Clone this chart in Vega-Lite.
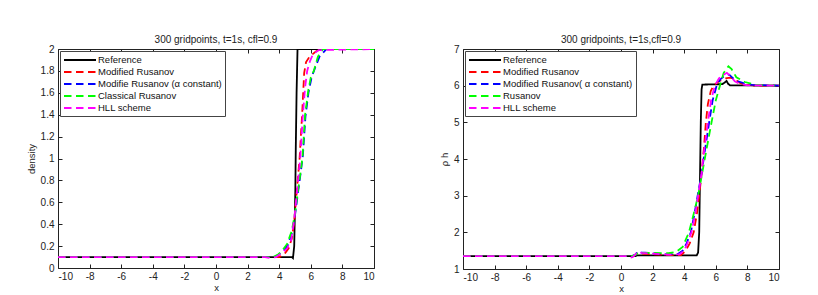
{
  "$schema": "https://vega.github.io/schema/vega-lite/v6.json",
  "background": "white",
  "padding": {"left": 25, "top": 34, "right": 0, "bottom": 0},
  "spacing": 63,
  "config": {
    "font": "Liberation Sans",
    "view": {"stroke": "#222", "strokeWidth": 1},
    "axis": {
      "grid": false,
      "domain": false,
      "tickSize": -4,
      "tickColor": "#222",
      "labelFontSize": 10,
      "labelColor": "#222",
      "titleFontSize": 9.5,
      "titleFontWeight": "normal",
      "titleColor": "#222"
    },
    "title": {"fontSize": 10, "fontWeight": "normal", "color": "#222", "offset": -1},
    "legend": {
      "orient": "top-left",
      "offset": 2,
      "title": null,
      "fillColor": "white",
      "strokeColor": "#444",
      "padding": 3,
      "symbolType": "M-1,0H5.4",
      "symbolSize": 100,
      "symbolStrokeWidth": 1.8,
      "symbolOffset": 0,
      "labelFontSize": 9.5,
      "labelColor": "#111",
      "labelOffset": 23,
      "rowPadding": 1,
      "cornerRadius": 0
    }
  },
  "datasets": {
    "density": [
      {"s": "Reference", "x": -10, "y": 0.1},
      {"s": "Reference", "x": 4.8, "y": 0.1},
      {"s": "Reference", "x": 4.87, "y": 0.09},
      {"s": "Reference", "x": 4.95, "y": 0.2},
      {"s": "Reference", "x": 5.02, "y": 0.7},
      {"s": "Reference", "x": 5.05, "y": 1.1},
      {"s": "Reference", "x": 5.1, "y": 1.6},
      {"s": "Reference", "x": 5.16, "y": 2.0},
      {"s": "Reference", "x": 10, "y": 2.0},
      {"s": "Modified Rusanov", "x": -10, "y": 0.1},
      {"s": "Modified Rusanov", "x": 4.0, "y": 0.1},
      {"s": "Modified Rusanov", "x": 4.3, "y": 0.12},
      {"s": "Modified Rusanov", "x": 4.6, "y": 0.18},
      {"s": "Modified Rusanov", "x": 4.8, "y": 0.27},
      {"s": "Modified Rusanov", "x": 4.95, "y": 0.42},
      {"s": "Modified Rusanov", "x": 5.1, "y": 0.68},
      {"s": "Modified Rusanov", "x": 5.29, "y": 1.0},
      {"s": "Modified Rusanov", "x": 5.45, "y": 1.4},
      {"s": "Modified Rusanov", "x": 5.58, "y": 1.78},
      {"s": "Modified Rusanov", "x": 5.7, "y": 1.88},
      {"s": "Modified Rusanov", "x": 5.92, "y": 1.93},
      {"s": "Modified Rusanov", "x": 6.34, "y": 1.98},
      {"s": "Modified Rusanov", "x": 6.7, "y": 2.0},
      {"s": "Modified Rusanov", "x": 10, "y": 2.0},
      {"s": "Modifie Rusanov (α constant)", "x": -10, "y": 0.1},
      {"s": "Modifie Rusanov (α constant)", "x": 3.7, "y": 0.1},
      {"s": "Modifie Rusanov (α constant)", "x": 4.0, "y": 0.125},
      {"s": "Modifie Rusanov (α constant)", "x": 4.3, "y": 0.16},
      {"s": "Modifie Rusanov (α constant)", "x": 4.55, "y": 0.21},
      {"s": "Modifie Rusanov (α constant)", "x": 4.8, "y": 0.32},
      {"s": "Modifie Rusanov (α constant)", "x": 5.0, "y": 0.48},
      {"s": "Modifie Rusanov (α constant)", "x": 5.2, "y": 0.7},
      {"s": "Modifie Rusanov (α constant)", "x": 5.35, "y": 0.86},
      {"s": "Modifie Rusanov (α constant)", "x": 5.5, "y": 1.03},
      {"s": "Modifie Rusanov (α constant)", "x": 5.66, "y": 1.38},
      {"s": "Modifie Rusanov (α constant)", "x": 5.85, "y": 1.6},
      {"s": "Modifie Rusanov (α constant)", "x": 6.05, "y": 1.74},
      {"s": "Modifie Rusanov (α constant)", "x": 6.25, "y": 1.82},
      {"s": "Modifie Rusanov (α constant)", "x": 6.55, "y": 1.93},
      {"s": "Modifie Rusanov (α constant)", "x": 7.0, "y": 2.0},
      {"s": "Modifie Rusanov (α constant)", "x": 10, "y": 2.0},
      {"s": "Classical Rusanov", "x": -10, "y": 0.1},
      {"s": "Classical Rusanov", "x": 3.6, "y": 0.1},
      {"s": "Classical Rusanov", "x": 3.9, "y": 0.12},
      {"s": "Classical Rusanov", "x": 4.2, "y": 0.16},
      {"s": "Classical Rusanov", "x": 4.5, "y": 0.22},
      {"s": "Classical Rusanov", "x": 4.8, "y": 0.34},
      {"s": "Classical Rusanov", "x": 5.0, "y": 0.5},
      {"s": "Classical Rusanov", "x": 5.2, "y": 0.72},
      {"s": "Classical Rusanov", "x": 5.35, "y": 0.87},
      {"s": "Classical Rusanov", "x": 5.48, "y": 1.02},
      {"s": "Classical Rusanov", "x": 5.64, "y": 1.4},
      {"s": "Classical Rusanov", "x": 5.85, "y": 1.63},
      {"s": "Classical Rusanov", "x": 6.0, "y": 1.74},
      {"s": "Classical Rusanov", "x": 6.19, "y": 1.8},
      {"s": "Classical Rusanov", "x": 6.45, "y": 1.93},
      {"s": "Classical Rusanov", "x": 6.77, "y": 2.0},
      {"s": "Classical Rusanov", "x": 10, "y": 2.0},
      {"s": "HLL scheme", "x": -10, "y": 0.1},
      {"s": "HLL scheme", "x": 3.1, "y": 0.1},
      {"s": "HLL scheme", "x": 3.4, "y": 0.093},
      {"s": "HLL scheme", "x": 3.8, "y": 0.1},
      {"s": "HLL scheme", "x": 4.2, "y": 0.14},
      {"s": "HLL scheme", "x": 4.5, "y": 0.18},
      {"s": "HLL scheme", "x": 4.75, "y": 0.25},
      {"s": "HLL scheme", "x": 4.95, "y": 0.44},
      {"s": "HLL scheme", "x": 5.15, "y": 0.74},
      {"s": "HLL scheme", "x": 5.33, "y": 1.0},
      {"s": "HLL scheme", "x": 5.5, "y": 1.4},
      {"s": "HLL scheme", "x": 5.64, "y": 1.65},
      {"s": "HLL scheme", "x": 5.77, "y": 1.8},
      {"s": "HLL scheme", "x": 5.95, "y": 1.89},
      {"s": "HLL scheme", "x": 6.13, "y": 1.95},
      {"s": "HLL scheme", "x": 6.5, "y": 1.99},
      {"s": "HLL scheme", "x": 10, "y": 2.0}
    ],
    "rhoh": [
      {"s": "Reference", "x": -10, "y": 1.35},
      {"s": "Reference", "x": 0.9, "y": 1.35},
      {"s": "Reference", "x": 1.0, "y": 1.37},
      {"s": "Reference", "x": 4.79, "y": 1.37},
      {"s": "Reference", "x": 4.88, "y": 1.45},
      {"s": "Reference", "x": 4.95, "y": 2.0},
      {"s": "Reference", "x": 5.0, "y": 3.5},
      {"s": "Reference", "x": 5.05, "y": 5.0},
      {"s": "Reference", "x": 5.1, "y": 5.9},
      {"s": "Reference", "x": 5.15, "y": 6.03},
      {"s": "Reference", "x": 6.4, "y": 6.04},
      {"s": "Reference", "x": 6.55, "y": 6.08},
      {"s": "Reference", "x": 6.68, "y": 6.13},
      {"s": "Reference", "x": 6.78, "y": 6.05},
      {"s": "Reference", "x": 6.9, "y": 6.01},
      {"s": "Reference", "x": 10, "y": 6.0},
      {"s": "Modified Rusanov", "x": -10, "y": 1.35},
      {"s": "Modified Rusanov", "x": 0.8, "y": 1.35},
      {"s": "Modified Rusanov", "x": 1.0, "y": 1.42},
      {"s": "Modified Rusanov", "x": 1.3, "y": 1.42},
      {"s": "Modified Rusanov", "x": 3.0, "y": 1.38},
      {"s": "Modified Rusanov", "x": 3.8, "y": 1.38},
      {"s": "Modified Rusanov", "x": 4.1, "y": 1.5},
      {"s": "Modified Rusanov", "x": 4.35, "y": 1.7},
      {"s": "Modified Rusanov", "x": 4.6, "y": 2.0},
      {"s": "Modified Rusanov", "x": 4.8, "y": 2.5},
      {"s": "Modified Rusanov", "x": 4.95, "y": 3.0},
      {"s": "Modified Rusanov", "x": 5.1, "y": 3.6},
      {"s": "Modified Rusanov", "x": 5.25, "y": 4.3},
      {"s": "Modified Rusanov", "x": 5.37, "y": 5.0},
      {"s": "Modified Rusanov", "x": 5.5, "y": 5.5},
      {"s": "Modified Rusanov", "x": 5.68, "y": 5.85},
      {"s": "Modified Rusanov", "x": 5.85, "y": 6.0},
      {"s": "Modified Rusanov", "x": 6.2, "y": 6.12},
      {"s": "Modified Rusanov", "x": 6.6, "y": 6.2},
      {"s": "Modified Rusanov", "x": 6.9, "y": 6.22},
      {"s": "Modified Rusanov", "x": 7.2, "y": 6.18},
      {"s": "Modified Rusanov", "x": 7.5, "y": 6.08},
      {"s": "Modified Rusanov", "x": 7.8, "y": 6.03},
      {"s": "Modified Rusanov", "x": 8.5, "y": 6.0},
      {"s": "Modified Rusanov", "x": 10, "y": 6.0},
      {"s": "Modified Rusanov( α constant)", "x": -10, "y": 1.35},
      {"s": "Modified Rusanov( α constant)", "x": 0.7, "y": 1.35},
      {"s": "Modified Rusanov( α constant)", "x": 0.95, "y": 1.4},
      {"s": "Modified Rusanov( α constant)", "x": 1.05, "y": 1.47},
      {"s": "Modified Rusanov( α constant)", "x": 1.3, "y": 1.45},
      {"s": "Modified Rusanov( α constant)", "x": 3.0, "y": 1.4},
      {"s": "Modified Rusanov( α constant)", "x": 3.6, "y": 1.41},
      {"s": "Modified Rusanov( α constant)", "x": 3.9, "y": 1.5},
      {"s": "Modified Rusanov( α constant)", "x": 4.15, "y": 1.7},
      {"s": "Modified Rusanov( α constant)", "x": 4.42, "y": 2.0},
      {"s": "Modified Rusanov( α constant)", "x": 4.65, "y": 2.5},
      {"s": "Modified Rusanov( α constant)", "x": 4.85, "y": 3.0},
      {"s": "Modified Rusanov( α constant)", "x": 5.1, "y": 3.6},
      {"s": "Modified Rusanov( α constant)", "x": 5.3, "y": 4.2},
      {"s": "Modified Rusanov( α constant)", "x": 5.58, "y": 5.0},
      {"s": "Modified Rusanov( α constant)", "x": 5.8, "y": 5.6},
      {"s": "Modified Rusanov( α constant)", "x": 6.05, "y": 6.0},
      {"s": "Modified Rusanov( α constant)", "x": 6.3, "y": 6.18},
      {"s": "Modified Rusanov( α constant)", "x": 6.6, "y": 6.28},
      {"s": "Modified Rusanov( α constant)", "x": 6.85, "y": 6.3},
      {"s": "Modified Rusanov( α constant)", "x": 7.1, "y": 6.2},
      {"s": "Modified Rusanov( α constant)", "x": 7.4, "y": 6.12},
      {"s": "Modified Rusanov( α constant)", "x": 7.8, "y": 6.06},
      {"s": "Modified Rusanov( α constant)", "x": 8.3, "y": 6.02},
      {"s": "Modified Rusanov( α constant)", "x": 10, "y": 6.0},
      {"s": "Rusanov", "x": -10, "y": 1.35},
      {"s": "Rusanov", "x": 0.6, "y": 1.35},
      {"s": "Rusanov", "x": 0.9, "y": 1.38},
      {"s": "Rusanov", "x": 1.1, "y": 1.44},
      {"s": "Rusanov", "x": 1.5, "y": 1.44},
      {"s": "Rusanov", "x": 3.0, "y": 1.43},
      {"s": "Rusanov", "x": 3.5, "y": 1.47},
      {"s": "Rusanov", "x": 3.9, "y": 1.6},
      {"s": "Rusanov", "x": 4.1, "y": 1.8},
      {"s": "Rusanov", "x": 4.3, "y": 2.0},
      {"s": "Rusanov", "x": 4.6, "y": 2.5},
      {"s": "Rusanov", "x": 4.88, "y": 3.0},
      {"s": "Rusanov", "x": 5.3, "y": 4.0},
      {"s": "Rusanov", "x": 5.73, "y": 5.0},
      {"s": "Rusanov", "x": 6.0, "y": 5.6},
      {"s": "Rusanov", "x": 6.26, "y": 6.0},
      {"s": "Rusanov", "x": 6.5, "y": 6.35},
      {"s": "Rusanov", "x": 6.8, "y": 6.53},
      {"s": "Rusanov", "x": 7.0, "y": 6.45},
      {"s": "Rusanov", "x": 7.3, "y": 6.23},
      {"s": "Rusanov", "x": 7.84, "y": 6.1},
      {"s": "Rusanov", "x": 8.5, "y": 6.02},
      {"s": "Rusanov", "x": 10, "y": 6.0},
      {"s": "HLL scheme", "x": -10, "y": 1.35},
      {"s": "HLL scheme", "x": 0.4, "y": 1.35},
      {"s": "HLL scheme", "x": 0.6, "y": 1.31},
      {"s": "HLL scheme", "x": 0.75, "y": 1.33},
      {"s": "HLL scheme", "x": 0.95, "y": 1.42},
      {"s": "HLL scheme", "x": 1.05, "y": 1.47},
      {"s": "HLL scheme", "x": 1.3, "y": 1.44},
      {"s": "HLL scheme", "x": 3.0, "y": 1.39},
      {"s": "HLL scheme", "x": 3.7, "y": 1.4},
      {"s": "HLL scheme", "x": 4.0, "y": 1.5},
      {"s": "HLL scheme", "x": 4.2, "y": 1.7},
      {"s": "HLL scheme", "x": 4.46, "y": 2.0},
      {"s": "HLL scheme", "x": 4.7, "y": 2.5},
      {"s": "HLL scheme", "x": 4.88, "y": 3.0},
      {"s": "HLL scheme", "x": 5.1, "y": 3.6},
      {"s": "HLL scheme", "x": 5.25, "y": 4.2},
      {"s": "HLL scheme", "x": 5.5, "y": 5.0},
      {"s": "HLL scheme", "x": 5.7, "y": 5.6},
      {"s": "HLL scheme", "x": 5.94, "y": 6.0},
      {"s": "HLL scheme", "x": 6.2, "y": 6.2},
      {"s": "HLL scheme", "x": 6.5, "y": 6.3},
      {"s": "HLL scheme", "x": 6.7, "y": 6.35},
      {"s": "HLL scheme", "x": 6.95, "y": 6.25},
      {"s": "HLL scheme", "x": 7.2, "y": 6.12},
      {"s": "HLL scheme", "x": 7.5, "y": 6.05},
      {"s": "HLL scheme", "x": 8.0, "y": 6.01},
      {"s": "HLL scheme", "x": 10, "y": 6.0}
    ]
  },
  "hconcat": [
    {
      "width": 316,
      "height": 219,
      "title": "300 gridpoints, t=1s, cfl=0.9",
      "data": {"name": "density"},
      "layer": [
        {
          "mark": {"type": "line", "clip": true, "strokeWidth": 1.8},
          "encoding": {
            "x": {"field": "x", "type": "quantitative", "scale": {"domain": [-10, 10], "nice": false, "zero": false},
              "axis": {"values": [-10, -8, -6, -4, -2, 0, 2, 4, 6, 8, 10], "labelExpr": "datum.value + ''", "title": "x", "titlePadding": 1, "labelPadding": 7}},
            "y": {"field": "y", "type": "quantitative", "scale": {"domain": [0, 2], "nice": false},
              "axis": {"values": [0, 0.2, 0.4, 0.6, 0.8, 1, 1.2, 1.4, 1.6, 1.8, 2], "format": "~g", "title": "density", "titlePadding": 4, "labelPadding": 8}},
            "color": {"field": "s", "type": "nominal",
              "scale": {"domain": ["Reference", "Modified Rusanov", "Modifie Rusanov (α constant)", "Classical Rusanov", "HLL scheme"],
                "range": ["#000000", "#ff0000", "#0000ff", "#00ff00", "#ff00ff"]}},
            "strokeDash": {"field": "s", "type": "nominal",
              "scale": {"domain": ["Reference", "Modified Rusanov", "Modifie Rusanov (α constant)", "Classical Rusanov", "HLL scheme"],
                "range": [[1, 0], [7.5, 4.5], [7.5, 4.5], [7.5, 4.5], [7.5, 4.5]]}}
          }
        },
        {
          "mark": {"type": "line", "opacity": 0},
          "encoding": {
            "x": {"field": "x", "type": "quantitative", "axis": {"orient": "top", "values": [-10, -8, -6, -4, -2, 0, 2, 4, 6, 8, 10], "labels": false, "title": null, "labelPadding": 0, "minExtent": 0, "maxExtent": 0}},
            "y": {"field": "y", "type": "quantitative", "axis": {"orient": "right", "values": [0, 0.2, 0.4, 0.6, 0.8, 1, 1.2, 1.4, 1.6, 1.8, 2], "labels": false, "title": null, "labelPadding": 0, "minExtent": 0, "maxExtent": 0}}
          }
        }
      ],
      "resolve": {"axis": {"x": "independent", "y": "independent"}}
    },
    {
      "width": 316,
      "height": 220,
      "title": "300 gridpoints, t=1s,cfl=0.9",
      "data": {"name": "rhoh"},
      "layer": [
        {
          "mark": {"type": "line", "clip": true, "strokeWidth": 1.8},
          "encoding": {
            "x": {"field": "x", "type": "quantitative", "scale": {"domain": [-10, 10], "nice": false, "zero": false},
              "axis": {"values": [-10, -8, -6, -4, -2, 0, 2, 4, 6, 8, 10], "labelExpr": "datum.value + ''", "title": "x", "titlePadding": 1, "labelPadding": 7}},
            "y": {"field": "y", "type": "quantitative", "scale": {"domain": [1, 7], "nice": false, "zero": false},
              "axis": {"values": [1, 2, 3, 4, 5, 6, 7], "title": "ρ h", "titlePadding": 4, "labelPadding": 8}},
            "color": {"field": "s", "type": "nominal",
              "scale": {"domain": ["Reference", "Modified Rusanov", "Modified Rusanov( α constant)", "Rusanov", "HLL scheme"],
                "range": ["#000000", "#ff0000", "#0000ff", "#00ff00", "#ff00ff"]}},
            "strokeDash": {"field": "s", "type": "nominal",
              "scale": {"domain": ["Reference", "Modified Rusanov", "Modified Rusanov( α constant)", "Rusanov", "HLL scheme"],
                "range": [[1, 0], [7.5, 4.5], [7.5, 4.5], [7.5, 4.5], [7.5, 4.5]]}}
          }
        },
        {
          "mark": {"type": "line", "opacity": 0},
          "encoding": {
            "x": {"field": "x", "type": "quantitative", "axis": {"orient": "top", "values": [-10, -8, -6, -4, -2, 0, 2, 4, 6, 8, 10], "labels": false, "title": null, "labelPadding": 0, "minExtent": 0, "maxExtent": 0}},
            "y": {"field": "y", "type": "quantitative", "axis": {"orient": "right", "values": [1, 2, 3, 4, 5, 6, 7], "labels": false, "title": null, "labelPadding": 0, "minExtent": 0, "maxExtent": 0}}
          }
        }
      ],
      "resolve": {"axis": {"x": "independent", "y": "independent"}}
    }
  ],
  "resolve": {"scale": {"color": "independent", "strokeDash": "independent"}}
}
